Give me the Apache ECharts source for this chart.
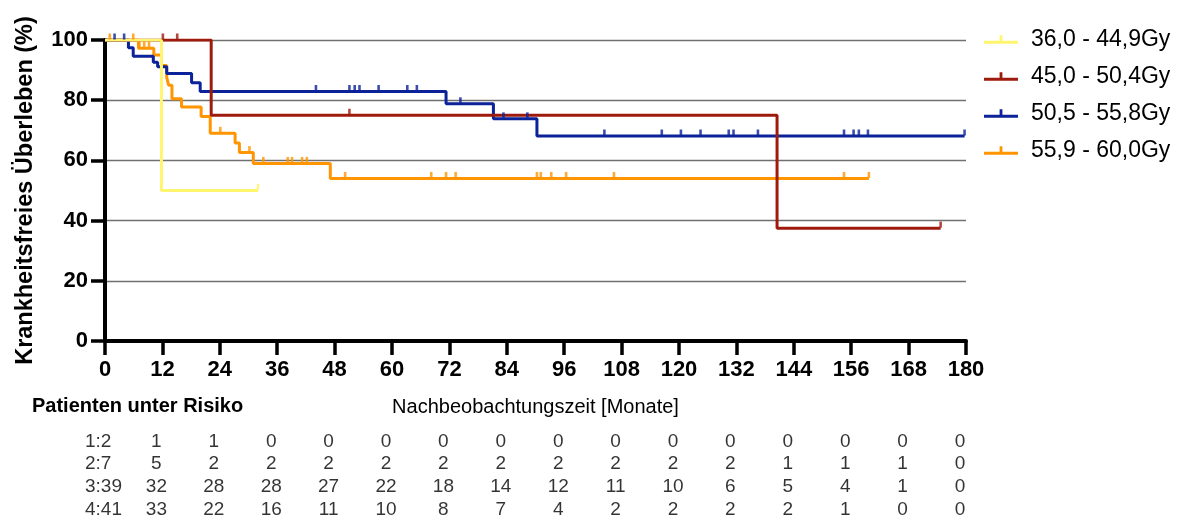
<!DOCTYPE html>
<html><head><meta charset="utf-8">
<script src="https://cdn.jsdelivr.net/npm/echarts@6/dist/echarts.min.js"></script>
<style>html,body{margin:0;padding:0;background:#fff}#c{width:1188px;height:521px}</style>
</head><body><div id="c"></div>
<script>
// ---- data ----
const groupNames = ['36,0 - 44,9Gy', '45,0 - 50,4Gy', '50,5 - 55,8Gy', '55,9 - 60,0Gy'];
const groupColors = ['#FFF56E', '#9E1A0C', '#0B2298', '#FF9500'];

// Kaplan-Meier steps: time (months) of each change, survival (%) after it
const yellowTimes = [0, 11.8, 32.0];
const yellowSurv  = [100, 50, 50];
const redTimes = [0, 22.2, 140.5, 174.7];
const redSurv  = [100, 75, 37.5, 37.5];
const blueTimes = [0, 4.9, 5.9, 10.1, 11.0, 12.9, 18.1, 19.9, 71.3, 81.2, 90.3, 179.7];
const blueSurv  = [100, 97.4, 94.6, 92.6, 91.1, 88.9, 85.8, 82.9, 78.8, 73.8, 68.1, 68.1];
const orangeTimes = [0, 7.0, 10.2, 11.8, 12.9, 13.3, 14.0, 16.0, 20.1, 22.0, 27.2, 28.1, 31.0, 47.1, 159.7];
const orangeSurv  = [100, 97.3, 95.0, 91.5, 87.6, 85.0, 80.5, 77.7, 74.6, 69.0, 65.8, 62.6, 59.0, 54.0, 54.0];

// censored observations (months)
const yellowCensor = [32.0];
const redCensor = [12.1, 15.1, 51.1, 174.7];
const blueCensor = [2.0, 4.0, 44.1, 51.1, 52.2, 53.2, 57.2, 63.2, 65.2, 74.3, 83.3, 88.3,
  104.4, 116.4, 120.4, 124.5, 130.4, 131.4, 136.5, 154.5, 156.5, 157.6, 159.5, 179.7];
const orangeCensor = [1.0, 5.9, 7.2, 8.2, 9.2, 24.1, 30.2, 33.1, 38.2, 39.1, 41.2, 42.2,
  50.2, 68.2, 71.3, 73.3, 90.3, 91.1, 93.3, 96.4, 106.4, 154.5, 159.7];

// Patients at risk
const riskTimes = [0, 12, 24, 36, 48, 60, 72, 84, 96, 108, 120, 132, 144, 156, 168, 180];
const risk1 = [2, 1, 1, 0, 0, 0, 0, 0, 0, 0, 0, 0, 0, 0, 0, 0];
const risk2 = [7, 5, 2, 2, 2, 2, 2, 2, 2, 2, 2, 2, 1, 1, 1, 0];
const risk3 = [39, 32, 28, 28, 27, 22, 18, 14, 12, 11, 10, 6, 5, 4, 1, 0];
const risk4 = [41, 33, 22, 16, 11, 10, 8, 7, 4, 2, 2, 2, 2, 1, 0, 0];

const xTicks = { min: 0, max: 180, interval: 12 };
const yTicks = { min: 0, max: 100, interval: 20 };

// ---- build ----
const FONT = 'Arial, "Liberation Sans", Helvetica, sans-serif';
const groups = [
  { t: yellowTimes, s: yellowSurv, c: yellowCensor },
  { t: redTimes, s: redSurv, c: redCensor },
  { t: blueTimes, s: blueSurv, c: blueCensor },
  { t: orangeTimes, s: orangeSurv, c: orangeCensor }
];
function survAt(g, x) {
  let v = g.s[0];
  for (let i = 0; i < g.t.length; i++) { if (g.t[i] <= x + 1e-9) v = g.s[i]; }
  return v;
}
const series = [];
// draw order: orange first, yellow last (on top)
for (let gi = groups.length - 1; gi >= 0; gi--) {
  const g = groups[gi];
  series.push({
    name: groupNames[gi], type: 'line', step: 'end', showSymbol: false, silent: true,
    xAxisIndex: 0, yAxisIndex: 0,
    data: g.t.map((t, i) => [t, g.s[i]]),
    lineStyle: { width: 3, color: groupColors[gi] }, itemStyle: { color: groupColors[gi] },
    z: 3
  });
  series.push({
    name: 'c' + gi, type: 'scatter', silent: true, xAxisIndex: 0, yAxisIndex: 0,
    data: g.c.map(t => [t, survAt(g, t)]),
    symbol: 'rect', symbolSize: [2.6, 6], symbolOffset: [0, -3.5],
    itemStyle: { color: groupColors[gi] }, z: 3
  });
}
const risks = [risk1, risk2, risk3, risk4];
const riskData = [];
risks.forEach((r, ri) => {
  r.forEach((v, ci) => {
    const item = { value: [riskTimes[ci], ri], txt: ci === 0 ? (ri + 1) + ':' + v : String(v) };
    if (ci === 0) item.label = { align: 'left', offset: [-20, 0] };
    riskData.push(item);
  });
});
series.push({
  type: 'scatter', silent: true, xAxisIndex: 1, yAxisIndex: 1, symbolSize: 0,
  data: riskData,
  label: { show: true, position: 'inside', offset: [-6, 0], color: '#000', fontSize: 19, fontFamily: FONT,
    formatter: p => p.data.txt }
});

const legendIcon = 'path://M0,8L34,8L34,11L0,11Z M15.6,2.5L18.4,2.5L18.4,8L15.6,8Z';
const chart = echarts.init(document.getElementById('c'), null, { renderer: 'canvas' });
chart.setOption({
  backgroundColor: '#fff',
  animation: false,
  grid: [
    { left: 105, right: 222, top: 40, bottom: 180, containLabel: false },
    { left: 105, right: 222, top: 430, height: 92, containLabel: false }
  ],
  legend: {
    orient: 'vertical', left: 979, top: 22, itemWidth: 34, itemHeight: 11, itemGap: 12,
    icon: legendIcon, selectedMode: false,
    data: groupNames,
    textStyle: { fontSize: 23, fontFamily: FONT, color: '#000', lineHeight: 25, padding: [0, 0, 0, 8] }
  },
  xAxis: [
    {
      type: 'value', gridIndex: 0, min: xTicks.min, max: xTicks.max, interval: xTicks.interval,
      name: 'Nachbeobachtungszeit [Monate]', nameLocation: 'middle', nameGap: 56,
      nameTextStyle: { fontSize: 20, fontFamily: FONT, color: '#000' },
      axisLine: { show: true, onZero: false, lineStyle: { color: '#000', width: 4 } },
      axisTick: { show: true, length: 14, lineStyle: { color: '#000', width: 3.5 } },
      axisLabel: { fontSize: 22, fontWeight: 'bold', fontFamily: FONT, color: '#000', margin: 18 },
      splitLine: { show: false }
    },
    { type: 'value', gridIndex: 1, min: xTicks.min, max: xTicks.max, show: false }
  ],
  yAxis: [
    {
      type: 'value', gridIndex: 0, min: yTicks.min, max: yTicks.max, interval: yTicks.interval,
      name: 'Krankheitsfreies Überleben (%)', nameLocation: 'middle', nameGap: 67, nameRotate: 90,
      nameTextStyle: { fontSize: 23.5, fontWeight: 'bold', fontFamily: FONT, color: '#000' },
      axisLine: { show: true, onZero: false, lineStyle: { color: '#000', width: 4 } },
      axisTick: { show: true, length: 14, lineStyle: { color: '#000', width: 3.5 } },
      axisLabel: { fontSize: 22, fontWeight: 'bold', fontFamily: FONT, color: '#000', margin: 17 },
      splitLine: { show: true, lineStyle: { color: '#707070', width: 1.3 } }
    },
    { type: 'category', gridIndex: 1, data: ['1', '2', '3', '4'], inverse: true, show: false }
  ],
  graphic: [
    { type: 'text', left: 32, top: 396, style: { text: 'Patienten unter Risiko', fontSize: 20, fontWeight: 'bold', fontFamily: FONT, fill: '#000' } }
  ],
  series: series
});
</script></body></html>
